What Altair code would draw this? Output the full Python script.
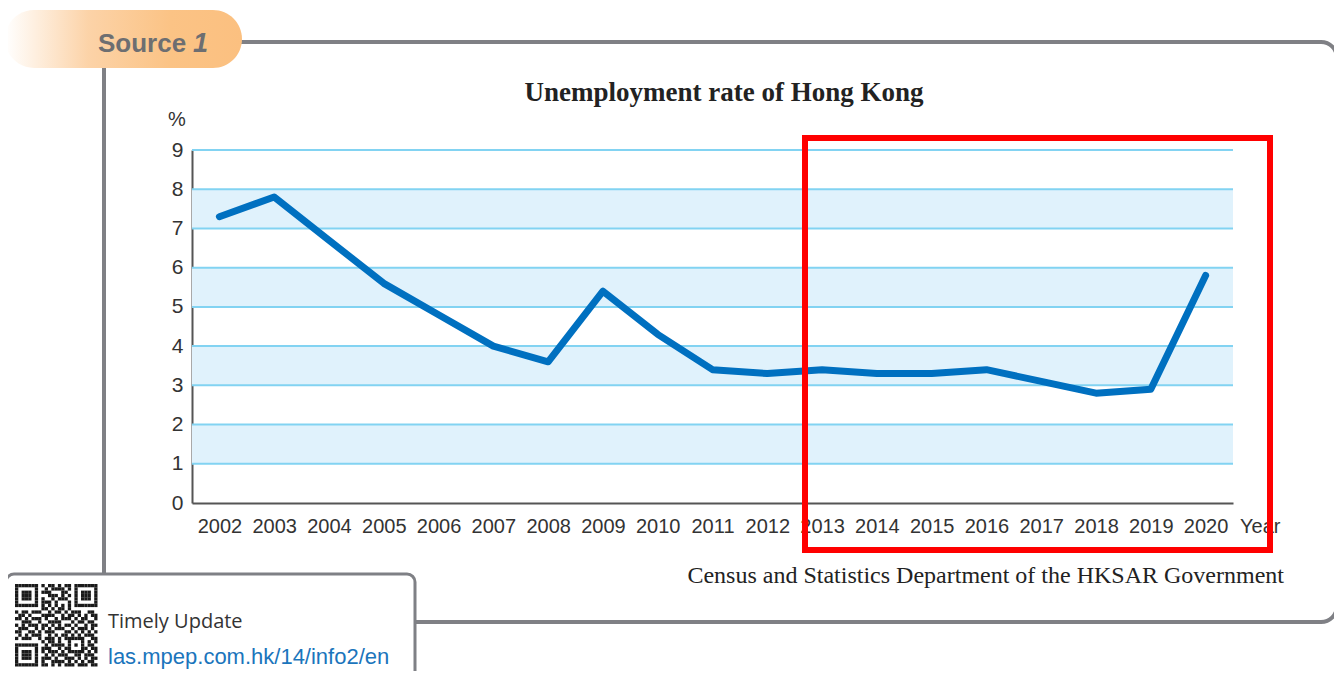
import altair as alt
import pandas as pd

# ---- data ----
years = list(range(2002, 2021))
rates = [7.3, 7.8, 6.7, 5.6, 4.8, 4.0, 3.6, 5.4, 4.3, 3.4, 3.3, 3.4, 3.3, 3.3, 3.4, 3.1, 2.8, 2.9, 5.8]
band_lo = [1, 3, 5, 7]
band_hi = [2, 4, 6, 8]
grid_vals = [1, 2, 3, 4, 5, 6, 7, 8, 9]
y_ticks = list(range(10))

qr_rows = [
    "1111111010110101101111111",
    "1000001001011110101000001",
    "1011101011100011001011101",
    "1011101000111010101011101",
    "1011101010010111001011101",
    "1000001011101000101000001",
    "1111111010101010101111111",
    "0000000011010110100000000",
    "1011011100101101011100110",
    "0110100011110010110101011",
    "1101011101001011101011001",
    "0011100100111100010110110",
    "1010111011010101101001011",
    "0111001010101110010111010",
    "1100110101110001101010101",
    "0101011100101011010101110",
    "1011100101110101111110011",
    "0000000010110100100010101",
    "1111111001011110101010110",
    "1000001011100101100011011",
    "1011101010111010111110101",
    "1011101001010111001101110",
    "1011101011101001110101011",
    "1000001010011110101010110",
    "1111111011010101110111011",
]

W, H = 1041, 353
df = pd.DataFrame({"year": years, "rate": rates})
bands = pd.DataFrame({"lo": band_lo, "hi": band_hi})
grid = pd.DataFrame({"g": grid_vals})
one = pd.DataFrame({"k": [0]})

mod = 3.3
qx0, qy0 = -177, 434
cells = []
for r, row in enumerate(qr_rows):
    for c, ch in enumerate(row):
        if ch == "1":
            cells.append({"x": qx0 + c * mod, "x2": qx0 + (c + 1) * mod,
                          "y": qy0 + r * mod, "y2": qy0 + (r + 1) * mod})
qr = pd.DataFrame(cells)

SANS = "Liberation Sans, Arial, sans-serif"
SERIF = "Liberation Serif, Times New Roman, serif"

xscale = alt.Scale(domain=[2001.5, 2020.5], nice=False, zero=False)
yscale = alt.Scale(domain=[0, 9], nice=False, zero=True)
yaxis = alt.Axis(values=y_ticks, ticks=False, grid=False, title=None,
                 labelFontSize=21, labelFont=SANS, labelColor="#333333",
                 labelPadding=9, domainColor="#555555", domainWidth=2,
                 labelOverlap=False, labelFlush=False, tickCount=10)

# ---- decorations ----
frame = alt.Chart(one).mark_rect(fillOpacity=0, stroke="#7f8085", strokeWidth=4, cornerRadius=16).encode(
    x=alt.value(-88), x2=alt.value(1145), y=alt.value(-108), y2=alt.value(472))

tab_grad = alt.Gradient(gradient="linear",
                        stops=[alt.GradientStop(color="#ffffff", offset=0),
                               alt.GradientStop(color="#fcd3a8", offset=0.35),
                               alt.GradientStop(color="#fbc385", offset=0.7),
                               alt.GradientStop(color="#fbc080", offset=1)],
                        x1=0, x2=1, y1=0, y2=0)
tab = alt.Chart(one).mark_rect(color=tab_grad, cornerRadius=29).encode(
    x=alt.value(-187), x2=alt.value(50), y=alt.value(-140), y2=alt.value(-82))
tab_text = alt.Chart(one).mark_text(text="Source", font=SANS, fontWeight="bold",
                                    fontSize=26, color="#6d6e71", align="left", baseline="alphabetic").encode(
    x=alt.value(-94), y=alt.value(-98))
tab_num = alt.Chart(one).mark_text(text="1", font=SANS, fontWeight="bold", fontStyle="italic",
                                   fontSize=27, color="#6d6e71", align="left", baseline="alphabetic").encode(
    x=alt.value(1), y=alt.value(-98))

qr_box = alt.Chart(one).mark_rect(fill="#ffffff", stroke="#7f8085", strokeWidth=3, cornerRadius=8).encode(
    x=alt.value(-186), x2=alt.value(223), y=alt.value(424), y2=alt.value(560))
qr_cells = alt.Chart(qr).mark_rect(color="#1a1a1a").encode(
    x=alt.X("x:Q", scale=None, axis=None), x2="x2:Q",
    y=alt.Y("y:Q", scale=None, axis=None), y2="y2:Q")
qr_t1 = alt.Chart(one).mark_text(text="Timely Update", font="Open Sans, sans-serif", fontSize=20, color="#333333",
                                 align="left", baseline="alphabetic").encode(x=alt.value(-84), y=alt.value(478))
qr_t2 = alt.Chart(one).mark_text(text="las.mpep.com.hk/14/info2/en", font=SANS, fontSize=22,
                                 color="#1b75bc", align="left", baseline="alphabetic").encode(
    x=alt.value(-84), y=alt.value(514))

# ---- chart ----
band_layer = alt.Chart(bands).mark_rect(color="#e0f2fc").encode(
    x=alt.value(0), x2=alt.value(W),
    y=alt.Y("lo:Q", scale=yscale, axis=yaxis), y2="hi:Q")
grid_layer = alt.Chart(grid).mark_rule(color="#82d3f2", strokeWidth=2).encode(
    x=alt.value(0), x2=alt.value(W),
    y=alt.Y("g:Q", scale=yscale, axis=yaxis))

line = alt.Chart(df).mark_line(color="#0070c0", strokeWidth=7, strokeCap="round", strokeJoin="round").encode(
    x=alt.X("year:Q", scale=xscale,
            axis=alt.Axis(values=years, format="d", ticks=False, grid=False, title=None,
                          labelFontSize=20, labelFont=SANS, labelColor="#333333",
                          labelPadding=13, domainColor="#555555", domainWidth=2,
                          labelFlush=False, labelOverlap=False)),
    y=alt.Y("rate:Q", scale=yscale, axis=yaxis))

title = alt.Chart(one).mark_text(text="Unemployment rate of Hong Kong", font=SERIF,
                                 fontWeight="bold", fontSize=27, color="#222222").encode(
    x=alt.value(532), y=alt.value(-57))
pct = alt.Chart(one).mark_text(text="%", font=SANS, fontSize=20, color="#333333").encode(
    x=alt.value(-15), y=alt.value(-30))
year_lbl = alt.Chart(one).mark_text(text="Year", font=SANS, fontSize=20,
                                    color="#333333", align="left", baseline="top").encode(
    x=alt.value(1048), y=alt.value(367))
src = alt.Chart(one).mark_text(text="Census and Statistics Department of the HKSAR Government",
                               font=SERIF, fontSize=24, color="#222222",
                               align="right", baseline="alphabetic").encode(
    x=alt.value(1092), y=alt.value(433))
red_box = alt.Chart(one).mark_rect(fillOpacity=0, stroke="#ff0000", strokeWidth=6).encode(
    x=alt.value(613), x2=alt.value(1078), y=alt.value(-12), y2=alt.value(400))

chart = alt.layer(
    frame, tab, tab_text, tab_num, qr_box, qr_cells, qr_t1, qr_t2,
    band_layer, grid_layer, line, title, pct, year_lbl, src, red_box
).properties(
    width=W, height=H,
    autosize=alt.AutoSizeParams(type="none"),
    padding={"left": 184, "top": 142, "right": 101, "bottom": 168},
    background="#ffffff",
).configure_view(strokeWidth=0)

chart.save("out.html", embed_options={"renderer": "svg", "actions": False})
